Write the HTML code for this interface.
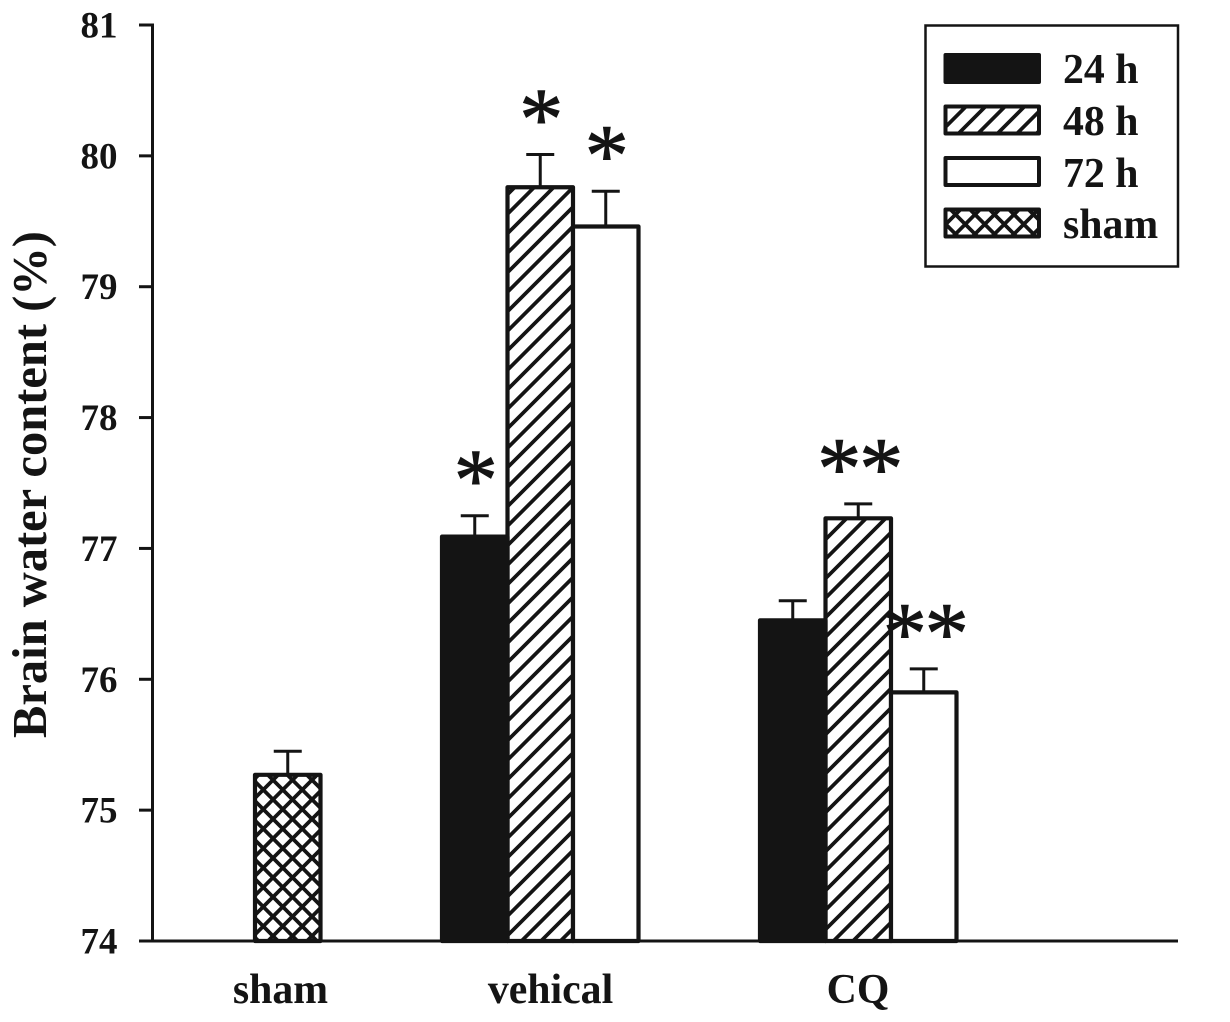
<!DOCTYPE html>
<html lang="en">
<head>
<meta charset="utf-8">
<title>Brain water content</title>
<style>
html,body{margin:0;padding:0;background:#fff;}
svg{display:block;}
text{font-family:"Liberation Serif",serif;font-weight:bold;fill:#141414;}
</style>
</head>
<body>
<svg id="chart" xmlns="http://www.w3.org/2000/svg" width="1230" height="1022" viewBox="0 0 1230 1022">
  <defs>
    <pattern id="hatch" patternUnits="userSpaceOnUse" width="19.5" height="19.5">
      <path d="M-5 24.5L24.5 -5M-5 5L5 -5M14.5 24.5L24.5 14.5" stroke="#141414" stroke-width="3.7" fill="none"/>
    </pattern>
    <pattern id="cross" patternUnits="userSpaceOnUse" width="19.5" height="19.5">
      <path d="M-5 24.5L24.5 -5M-5 5L5 -5M14.5 24.5L24.5 14.5M-5 -5L24.5 24.5M-5 14.5L5 24.5M14.5 -5L24.5 5" stroke="#141414" stroke-width="3.8" fill="none"/>
    </pattern>
  </defs>
  <rect width="1230" height="1022" fill="#fff"/>
  <g id="bars"></g>
  <g id="axis"></g>
  <line x1="139" y1="941" x2="1178" y2="941" stroke="#141414" stroke-width="3"/>
  <text transform="translate(46,738) rotate(-90)" font-size="48.500">Brain water content (%)</text>
  <text x="280.5" y="1003" font-size="41.800" text-anchor="middle">sham</text>
  <text x="550.5" y="1003" font-size="41.800" text-anchor="middle">vehical</text>
  <text x="858" y="1003" font-size="41.800" text-anchor="middle">CQ</text>
  <g>
    <rect x="925.5" y="25.5" width="252.500" height="241" fill="#fff" stroke="#141414" stroke-width="2.5"/>
    <rect x="945.500" y="55" width="93.500" height="27" fill="#141414" stroke="#141414" stroke-width="4" stroke-linejoin="round"/>
    <rect x="945.500" y="106.500" width="93.500" height="27" fill="url(#hatch)" stroke="#141414" stroke-width="4" stroke-linejoin="round"/>
    <rect x="945.500" y="158" width="93.500" height="27" fill="#fff" stroke="#141414" stroke-width="4" stroke-linejoin="round"/>
    <rect x="945.500" y="209.500" width="93.500" height="27" fill="url(#cross)" stroke="#141414" stroke-width="4" stroke-linejoin="round"/>
    <text x="1063" y="83" font-size="41.800">24 h</text>
    <text x="1063" y="135" font-size="41.800">48 h</text>
    <text x="1063" y="187" font-size="41.800">72 h</text>
    <text x="1063" y="238" font-size="41.800">sham</text>
  </g>
</svg>
<script>
const categories = ["sham", "vehical", "CQ"];
const tickLabels = [74, 75, 76, 77, 78, 79, 80, 81];
const seriesNames = ["24h", "48h", "72h", "sham"];
const values24h = [null, 77.09, 76.45];
const values48h = [null, 79.76, 77.23];
const values72h = [null, 79.46, 75.90];
const valuesSham = [75.27, null, null];
const errors24h = [null, 0.16, 0.15];
const errors48h = [null, 0.25, 0.11];
const errors72h = [null, 0.27, 0.18];
const errorsSham = [0.18, null, null];
const stars24h = [0, 1, 0];
const stars48h = [0, 1, 2];
const stars72h = [0, 1, 2];
const starsSham = [0, 0, 0];

const NS = "http://www.w3.org/2000/svg";
const INK = "#141414";
const barsLayer = document.getElementById("bars");
const axisLayer = document.getElementById("axis");

function yScale(v) { return 941 - (v - 74) * (916 / 7); }
function xScale(groupIndex, slot) { return 255 + 318 * groupIndex + (slot - 1.5) * 65.5; }
function shape(tag, attrs, parent) {
  const el = document.createElementNS(NS, tag);
  for (const k in attrs) el.setAttribute(k, attrs[k]);
  parent.appendChild(el);
  return el;
}

const fills = ["#141414", "url(#hatch)", "#fff", "url(#cross)"];
const slots = [0, 1, 2, 2];
const allValues = [values24h, values48h, values72h, valuesSham];
const allErrors = [errors24h, errors48h, errors72h, errorsSham];
const allStars = [stars24h, stars48h, stars72h, starsSham];

const barWidth = 65.5;
allValues.forEach(function (vals, s) {
  vals.forEach(function (v, g) {
    if (v === null) return;
    const cx = xScale(g, slots[s]);
    const top = yScale(v);
    const errTop = yScale(v + allErrors[s][g]);
    const label = categories[g].toLowerCase() + "-" + seriesNames[s].toLowerCase();

    const stem = shape("line", {x1: cx, x2: cx, y1: errTop, y2: top, stroke: INK, "stroke-width": 3}, barsLayer);
    
    

    const cap = shape("line", {x1: cx - 14, x2: cx + 14, y1: errTop, y2: errTop, stroke: INK, "stroke-width": 3}, barsLayer);
    
    

    const bar = shape("rect", {x: cx - barWidth / 2, y: top, width: barWidth, height: 941 - top, fill: fills[s], stroke: INK, "stroke-width": 4.2, "stroke-linejoin": "round"}, barsLayer);
    
    

    const count = allStars[s][g];
    for (let i = 0; i < count; i++) {
      const sx = cx + (count === 2 ? (i === 0 ? -19 : 23) : 1);
      const star = shape("text", {x: sx, y: errTop - 6, "font-size": 88, "text-anchor": "middle", stroke: INK, "stroke-width": 1, style: "font-weight:normal"}, barsLayer);
      star.textContent = "*";
      
      
    }
  });
});

shape("line", {x1: 152.5, x2: 152.5, y1: yScale(81) - 1.5, y2: yScale(74), stroke: INK, "stroke-width": 3}, axisLayer);
tickLabels.forEach(function (t) {
  const y = yScale(t);
  const tick = shape("line", {x1: 139, x2: 152, y1: y, y2: y, stroke: INK, "stroke-width": 3}, axisLayer);
  
  

  const lab = shape("text", {x: 117.5, y: y + 12.5, "font-size": 37, "text-anchor": "end"}, axisLayer);
  lab.textContent = t;
  
  
});
</script>
</body>
</html>
